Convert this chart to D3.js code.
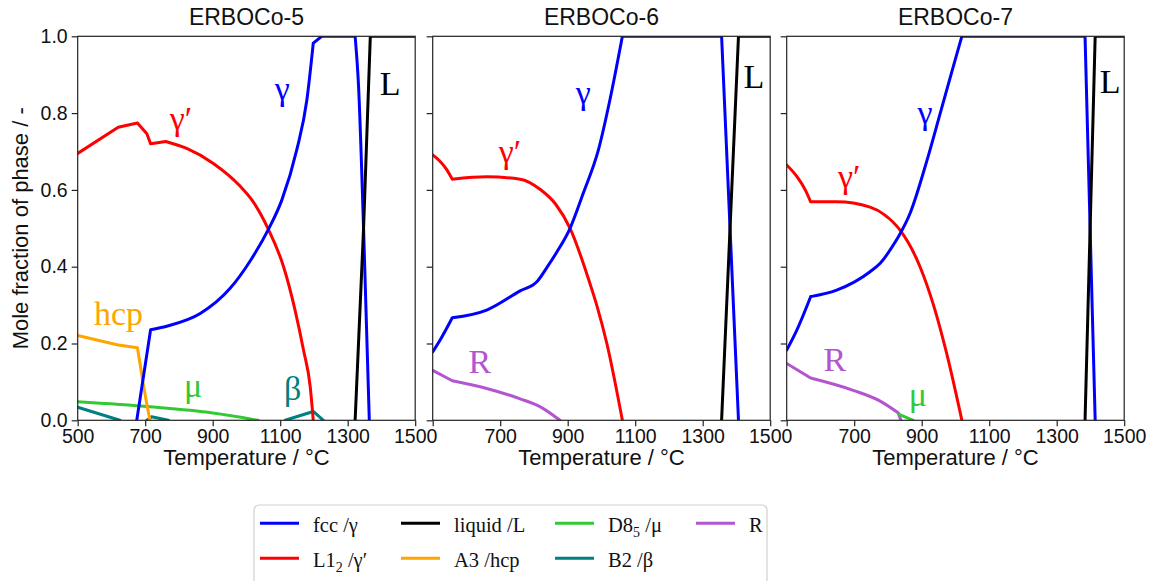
<!DOCTYPE html>
<html>

<head>
    <script src="https://d3js.org/d3.v7.min.js"></script>
    <style>
        body {
            margin: 0;
            background: white;
        }

        .tick text {
            font-family: "Liberation Sans", Arial, sans-serif;
        }
    </style>
</head>

<body>
    <div id="chart"></div>

    <script>
        var panelNames = ["ERBOCo-5", "ERBOCo-6", "ERBOCo-7"];
        var xTicks = [500, 700, 900, 1100, 1300, 1500];
        var yTicks = [0, 0.2, 0.4, 0.6, 0.8, 1.0];

        // each series is a list of smooth pieces of [temperature, mole fraction]; pieces meet at kinks

        // ERBOCo-5
        var fcc5 = [
            [[675, 0], [716, 0.236]],
            [[716, 0.236], [764, 0.245], [863, 0.278], [951, 0.343], [1011, 0.415], [1065, 0.497], [1105, 0.574], [1149, 0.704], [1179, 0.834], [1198, 0.982]],
            [[1198, 0.982], [1223, 1.0]],
            [[1223, 1.0], [1322, 1.0]],
            [[1322, 1.0], [1332, 0.873], [1347, 0.5], [1364, 0]]
        ];
        var l12_5 = [
            [[500, 0.695], [620, 0.763]],
            [[620, 0.763], [677, 0.774]],
            [[677, 0.774], [705, 0.746]],
            [[705, 0.746], [716, 0.72]],
            [[716, 0.72], [761, 0.726]],
            [[761, 0.726], [823, 0.708], [902, 0.669], [981, 0.610], [1016, 0.574], [1065, 0.497], [1110, 0.40], [1144, 0.287], [1169, 0.183], [1189, 0.087], [1198, 0]]
        ];
        var liq5 = [
            [[1322, 0], [1347, 0.5], [1367, 1.0]],
            [[1367, 1.0], [1500, 1.0]]
        ];
        var hcp5 = [
            [[500, 0.221], [620, 0.196]],
            [[620, 0.196], [677, 0.189]],
            [[677, 0.189], [694, 0.096], [714, 0]]
        ];
        var mu5 = [
            [[500, 0.048], [714, 0.035], [900, 0.019], [1035, 0]]
        ];
        var b2_5 = [
            [[500, 0.034], [625, 0]],
            [[705, 0], [719, 0.009]],
            [[719, 0.009], [769, 0]],
            [[1115, 0], [1198, 0.023]],
            [[1198, 0.023], [1228, 0]]
        ];

        // ERBOCo-6
        var fcc6 = [
            [[500, 0.178], [522, 0.209], [558, 0.267]],
            [[558, 0.267], [660, 0.287], [759, 0.337], [810, 0.362], [840, 0.40], [867, 0.437], [907, 0.50], [946, 0.591], [991, 0.704], [1025, 0.834], [1062, 1.0]],
            [[1062, 1.0], [1356, 1.0]],
            [[1356, 1.0], [1381, 0.5], [1406, 0]]
        ];
        var l12_6 = [
            [[500, 0.691], [520, 0.676], [540, 0.655], [558, 0.628]],
            [[558, 0.628], [660, 0.634], [759, 0.628], [819, 0.601], [865, 0.562], [907, 0.50], [966, 0.356], [986, 0.30], [1016, 0.20], [1062, 0]]
        ];
        var liq6 = [
            [[1356, 0], [1381, 0.5], [1406, 1.0]],
            [[1406, 1.0], [1500, 1.0]]
        ];
        var r6 = [
            [[500, 0.130], [558, 0.103]],
            [[558, 0.103], [660, 0.083], [759, 0.056], [819, 0.035], [877, 0]]
        ];

        // ERBOCo-7
        var fcc7 = [
            [[500, 0.183], [530, 0.235], [571, 0.322]],
            [[571, 0.322], [648, 0.339], [747, 0.387], [777, 0.409], [831, 0.478]],
            [[831, 0.478], [866, 0.54], [915, 0.675], [955, 0.80], [990, 0.91], [1019, 1.0]],
            [[1019, 1.0], [1384, 1.0]],
            [[1384, 1.0], [1399, 0.5], [1414, 0]]
        ];
        var l12_7 = [
            [[500, 0.665], [530, 0.635], [555, 0.600], [571, 0.569]],
            [[571, 0.569], [648, 0.569], [747, 0.555], [790, 0.535], [836, 0.495], [895, 0.40], [935, 0.30], [974, 0.174], [1019, 0]]
        ];
        var liq7 = [
            [[1384, 0], [1399, 0.5], [1414, 1.0]],
            [[1414, 1.0], [1500, 1.0]]
        ];
        var r7 = [
            [[500, 0.148], [571, 0.110]],
            [[571, 0.110], [697, 0.078], [777, 0.050], [831, 0.019]],
            [[831, 0.019], [838, 0]]
        ];
        var mu7 = [
            [[831, 0.016], [875, 0]]
        ];

        // phase labels written inside the panels [text, phase, temperature, fraction]
        var labels5 = [["γ′", "L12", 806, 0.756], ["γ", "fcc", 1106, 0.834], ["L", "liq", 1426, 0.847], ["hcp", "A3", 621, 0.248], ["μ", "D85", 842, 0.061], ["β", "B2", 1137, 0.053]];
        var labels6 = [["γ′", "L12", 729, 0.670], ["γ", "fcc", 946, 0.824], ["L", "liq", 1452, 0.865], ["R", "R", 640, 0.123]];
        var labels7 = [["γ′", "L12", 685, 0.605], ["γ", "fcc", 910, 0.772], ["L", "liq", 1458, 0.852], ["R", "R", 643, 0.128], ["μ", "D85", 889, 0.037]];

        var colors = {
            fcc: "#0000ff",
            L12: "#ff0000",
            liq: "#000000",
            A3: "#ffa500",
            D85: "#33c933",
            B2: "#008080",
            R: "#b455d0"
        };

        var panels = [
            { series: [["D85", mu5], ["B2", b2_5], ["A3", hcp5], ["L12", l12_5], ["fcc", fcc5], ["liq", liq5]], labels: labels5 },
            { series: [["R", r6], ["L12", l12_6], ["fcc", fcc6], ["liq", liq6]], labels: labels6 },
            { series: [["R", r7], ["D85", mu7], ["L12", l12_7], ["fcc", fcc7], ["liq", liq7]], labels: labels7 }
        ];

        var W = 1160, H = 581;
        var plotTop = 36.3, plotBottom = 420.3;
        var pw = 337.5, lefts = [77.7, 432.7, 786.7];

        var svg = d3.select("#chart").append("svg")
            .attr("width", W)
            .attr("height", H);

        var ys = d3.scaleLinear().domain([0, 1]).range([plotBottom, plotTop]);
        var sans = "'Liberation Sans', Arial, sans-serif";
        var serif = "'Liberation Serif', 'Times New Roman', serif";

        panels.forEach(function (p, i) {
            var xs = d3.scaleLinear().domain([500, 1500]).range([lefts[i], lefts[i] + pw]);
            var g = svg.append("g");

            g.append("clipPath").attr("id", "clip" + i)
                .append("rect")
                .attr("x", lefts[i]).attr("y", plotTop)
                .attr("width", pw).attr("height", plotBottom - plotTop);

            var line = d3.line()
                .curve(d3.curveMonotoneX)
                .x(function (d) { return xs(d[0]); })
                .y(function (d) { return ys(d[1]); });

            var lines = g.append("g").attr("clip-path", "url(#clip" + i + ")");
            p.series.forEach(function (s) {
                lines.append("path")
                    .attr("d", s[1].map(function (piece) { return line(piece); }).join(""))
                    .attr("fill", "none")
                    .attr("stroke", colors[s[0]])
                    .attr("stroke-width", 3)
                    .attr("stroke-linecap", "round")
                    .attr("stroke-linejoin", "round");
            });

            // phase names
            p.labels.forEach(function (l) {
                g.append("text")
                    .attr("x", xs(l[2]))
                    .attr("y", ys(l[3]))
                    .attr("text-anchor", "middle")
                    .style("font-family", serif)
                    .style("font-size", "34px")
                    .attr("fill", colors[l[1]])
                    .text(l[0]);
            });

            // frame
            g.append("rect")
                .attr("x", lefts[i]).attr("y", plotTop)
                .attr("width", pw).attr("height", plotBottom - plotTop)
                .attr("fill", "none")
                .attr("stroke", "#222")
                .attr("stroke-width", 1.2);

            var xAxis = d3.axisBottom(xs).tickValues(xTicks).tickSizeOuter(0).tickSize(6).tickPadding(3)
                .tickFormat(function (d) { return (i > 0 && d == 500) ? "" : d; });
            var xa = g.append("g").attr("transform", "translate(0," + plotBottom + ")").call(xAxis);

            var yAxis = d3.axisLeft(ys).tickValues(yTicks).tickSizeOuter(0).tickSize(6).tickPadding(4)
                .tickFormat(i == 0 ? d3.format(".1f") : function () { return ""; });
            var ya = g.append("g").attr("transform", "translate(" + lefts[i] + ",0)").call(yAxis);

            [xa, ya].forEach(function (a) {
                a.select(".domain").remove();
                a.selectAll("line").attr("stroke", "#222").attr("stroke-width", 1.2);
                a.selectAll("text").style("font-size", "19.5px").attr("fill", "#111");
            });

            g.append("text")
                .attr("x", lefts[i] + pw / 2)
                .attr("y", 25)
                .attr("text-anchor", "middle")
                .style("font-family", sans)
                .style("font-size", "23px")
                .attr("fill", "#111")
                .text(panelNames[i]);

            g.append("text")
                .attr("x", lefts[i] + pw / 2)
                .attr("y", 465)
                .attr("text-anchor", "middle")
                .style("font-family", sans)
                .style("font-size", "22px")
                .attr("fill", "#111")
                .text("Temperature / °C");
        });

        svg.append("text")
            .attr("transform", "translate(28," + ((plotTop + plotBottom) / 2) + ") rotate(-90)")
            .attr("text-anchor", "middle")
            .style("font-family", sans)
            .style("font-size", "22px")
            .attr("fill", "#111")
            .text("Mole fraction of phase / -");

        // legend
        var legendItems = [
            ["fcc", "fcc /γ", null],
            ["L12", "L1", "2", " /γ′"],
            ["liq", "liquid /L", null],
            ["A3", "A3 /hcp", null],
            ["D85", "D8", "5", " /μ"],
            ["B2", "B2 /β", null],
            ["R", "R", null]
        ];

        var leg = svg.append("g");
        leg.append("rect")
            .attr("x", 254).attr("y", 505)
            .attr("width", 513).attr("height", 90)
            .attr("rx", 5)
            .attr("fill", "white")
            .attr("stroke", "#d0d0d0")
            .attr("stroke-width", 1.2);

        var colX = [260, 401, 555, 696];
        var rowY = [523.3, 558.3];
        legendItems.forEach(function (it, k) {
            var cx = colX[Math.floor(k / 2)], cy = rowY[k % 2];
            leg.append("line")
                .attr("x1", cx).attr("x2", cx + 39)
                .attr("y1", cy).attr("y2", cy)
                .attr("stroke", colors[it[0]])
                .attr("stroke-width", 3);
            var t = leg.append("text")
                .attr("x", cx + 53)
                .attr("y", cy + 9)
                .style("font-family", serif)
                .style("font-size", "20.5px")
                .attr("fill", "#111");
            t.append("tspan").text(it[1]);
            if (it[2]) {
                t.append("tspan").attr("dy", 5).style("font-size", "14px").text(it[2]);
                t.append("tspan").attr("dy", -5).text(it[3]);
            }
        });
    </script>
</body>

</html>
